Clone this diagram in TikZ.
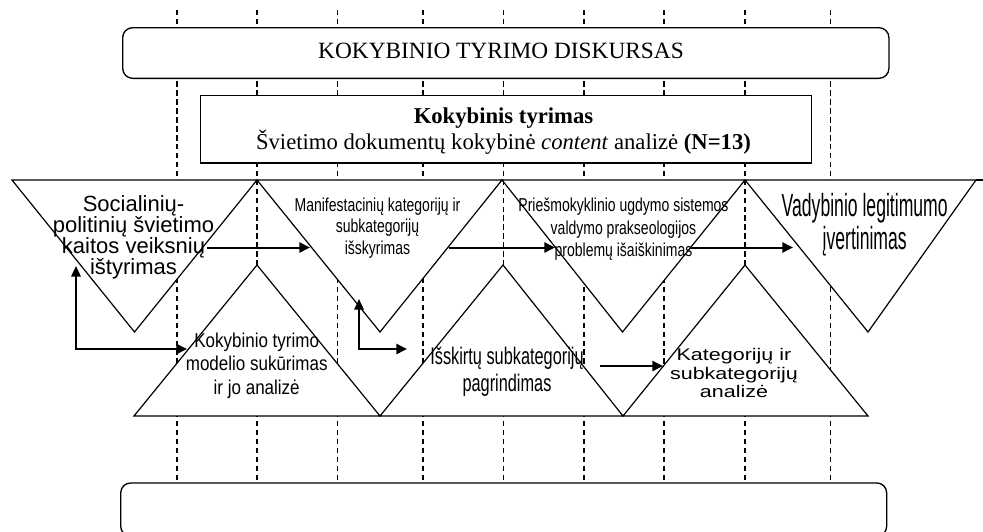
\documentclass[tikz,border=0pt]{standalone}
\usepackage{fontspec}
\usetikzlibrary{arrows.meta}
\setmainfont{Liberation Serif}
% sans faces at several widths for the stage labels
\newfontfamily\sansreg{Liberation Sans}
\newfontfamily\sansnarrow[FakeStretch=0.75]{Liberation Sans}
\newfontfamily\sanstight[FakeStretch=0.55]{Liberation Sans}
\newfontfamily\sansmodel[FakeStretch=0.85]{Liberation Sans}
\newfontfamily\sansbasis[FakeStretch=0.68]{Liberation Sans}
\newfontfamily\sanswide[FakeStretch=1.28]{Liberation Sans}

\tikzset{
  guide/.style={line width=0.9pt, dash pattern=on 4.1pt off 2.6pt},
  roundbox/.style={draw, fill=white, line width=1pt, rounded corners=7.5pt, inner sep=0pt},
  plainbox/.style={draw, fill=white, line width=1pt, inner sep=0pt},
  tri/.style={draw, fill=white, line width=0.9pt, line join=miter},
  label/.style={align=center, inner sep=0pt},
  arr/.style={line width=1.5pt, -{Triangle[length=7.9pt,width=7.5pt]}},
  darr/.style={line width=1.5pt, {Triangle[length=7.9pt,width=7pt]}-{Triangle[length=7.9pt,width=7.5pt]}}
}

\begin{document}
\begin{tikzpicture}[x=0.75pt, y=-0.75pt]
\useasboundingbox (0,0) rectangle (983,532);
\clip (0,0) rectangle (983,532);

% vertical guide lines
\foreach \gx in {177,257,337.5,423,503.5,584,664,745,830.5}
  \draw[guide] (\gx,10) -- (\gx,483);

% frames
\node[roundbox, minimum width=574.7pt, minimum height=38pt] (discourse) at (505.8,53) {};
\node[label, anchor=base, font=\fontsize{17.5}{19.5}\selectfont] (discoursetext) at (501,58.3)
  {KOKYBINIO TYRIMO DISKURSAS};

\node[plainbox, minimum width=458.25pt, minimum height=50.5pt] (study) at (506.2,129.35) {};
\node[label, font=\fontsize{17}{19.5}\selectfont] (studytext) at (503.5,130.8)
  {\textbf{Kokybinis tyrimas}\\Švietimo dokumentų kokybinė \textit{content} analizė \textbf{(N=13)}};

\node[roundbox, minimum width=574.5pt, minimum height=40pt] (result) at (503.7,509.6) {};

% upper row of stages (pointing down)
\path[tri] (12,180) -- (257,180) -- (134.5,332) -- cycle;
\path[tri] (257,180) -- (502,180) -- (380,332) -- cycle;
\path[tri] (502,180) -- (745,180) -- (622.5,332) -- cycle;
\path[tri] (745,180) -- (976,180) -- (868,332) -- cycle;
\draw[line width=0.9pt] (976,180) -- (983,180);

% lower row of stages (pointing up)
\path[tri] (134,416) -- (380,416) -- (257,265) -- cycle;
\path[tri] (380,416) -- (623,416) -- (503,265) -- cycle;
\path[tri] (623,416) -- (868,416) -- (745,265) -- cycle;

% stage labels
\node[label, font=\sansreg\fontsize{16.5}{15.9}\selectfont] (s1) at (133.5,237.5)
  {Socialinių-\\politinių švietimo\\kaitos veiksnių\\ištyrimas};
\node[label, font=\sansnarrow\fontsize{14}{15.9}\selectfont] (s2) at (377.5,228)
  {Manifestacinių kategorijų ir\\subkategorijų\\išskyrimas};
\node[label, font=\sansnarrow\fontsize{14}{16.8}\selectfont] (s3) at (623.5,229.5)
  {Priešmokyklinio ugdymo sistemos\\valdymo prakseologijos\\problemų išaiškinimas};
\node[label, font=\sanstight\fontsize{24}{25}\selectfont] (s4) at (864.7,225)
  {Vadybinio legitimumo\\įvertinimas};
\node[label, font=\sansmodel\fontsize{15}{17.5}\selectfont] (m1) at (256.7,365.5)
  {Kokybinio tyrimo\\modelio sukūrimas\\ir jo analizė};
\node[label, font=\sansbasis\fontsize{18}{20}\selectfont] (m2) at (507,372)
  {Išskirtų subkategorijų\\pagrindimas};
\node[label, font=\sanswide\fontsize{12.6}{13.75}\selectfont] (m3) at (734,373)
  {Kategorijų ir\\subkategorijų\\analizė};

% connector end points
\coordinate (a1s) at (207,247.5);  \coordinate (a1e) at (310,247.5);
\coordinate (a2s) at (449,247.5);  \coordinate (a2e) at (555,247.5);
\coordinate (a3s) at (690,247.5);  \coordinate (a3e) at (793,247.5);
\coordinate (b1s) at (76,266);     \coordinate (b1e) at (187,349);
\coordinate (b2s) at (359,299);    \coordinate (b2e) at (407,349);
\coordinate (c1s) at (600,366);    \coordinate (c1e) at (663,366);

% connectors
\draw[arr] (a1s) -- (a1e);
\draw[arr] (a2s) -- (a2e);
\draw[arr] (a3s) -- (a3e);
\draw[darr] (b1s) |- (b1e);
\draw[darr] (b2s) |- (b2e);
\draw[arr] (c1s) -- (c1e);
\end{tikzpicture}
\end{document}
